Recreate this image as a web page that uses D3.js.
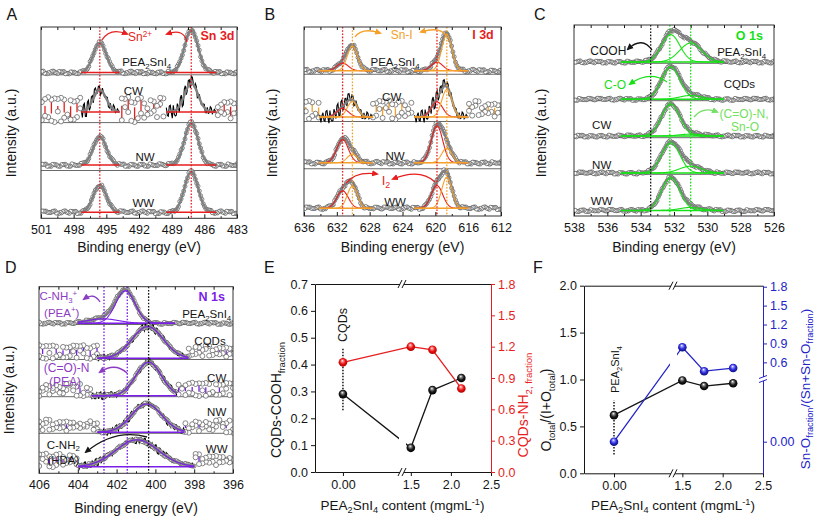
<!DOCTYPE html>
<html><head><meta charset="utf-8">
<script src="https://cdn.jsdelivr.net/npm/d3@7/dist/d3.min.js"></script>
<style>
html,body{margin:0;padding:0;background:#fff;}
svg{display:block;font-family:"Liberation Sans",Arial,Helvetica,sans-serif;}
</style></head><body>
<svg id="fig" width="817" height="521"></svg>
<script>
// ================= DATA =================
// Panel A : Sn 3d
const snRows = ["PEA_2SnI_4","CW","NW","WW"];
const snCenters = [495.6, 487.2];
const snSigmas = [0.6, 0.62];
const snHeights = [[0.62,0.89],[0.46,0.60],[0.59,0.88],[0.57,0.85]];
const snFit = [[497.3,493.8],[489.5,484.9]];
const snTicks = [501,498,495,492,489,486,483];
const snLines = [495.6, 487.2];
// Panel B : I 3d  (I2, Sn-I, I2, Sn-I)
const iRows = ["PEA_2SnI_4","CW","NW","WW"];
const iCenters = [631.3, 630.1, 619.8, 618.6];
const iSigmas = [0.7, 0.62, 0.7, 0.62];
const iHeights = [[0.16,0.52,0.18,0.76],[0.18,0.33,0.32,0.58],[0.49,0.18,0.78,0.31],[0.37,0.47,0.48,0.66]];
const iFit = [[634.2,627.6],[622.6,616.0]];
const iTicks = [636,632,628,624,620,616,612];
const iLinesI2 = [631.3, 619.8];
const iLinesSnI = [630.1, 618.6];
// Panel C : O 1s  (C-O, (C=O)-N / Sn-O)
const oRows = ["PEA_2SnI_4","CQDs","CW","NW","WW"];
const oCenters = [532.2, 531.0];
const oSigmas = [0.55, 0.66];
const oHeights = [[0.72,0.50],[0.85,0.10],[0.84,0.05],[0.79,0.18],[0.86,0.08]];
const oFit = [[535.2,529.0]];
const oTicks = [538,536,534,532,530,528,526];
const oLineCOOH = 533.4;
const oLinesGreen = [532.25, 531.0];
// Panel D : N 1s
const nRows = ["PEA_2SnI_4","CQDs","CW","NW","WW"];
const nCenters = [[401.55,402.7],[400.4],[400.35],[400.45],[400.95]];
const nSigmas = [[0.5,0.8],[0.8],[0.65],[0.78],[1.1]];
const nHeights = [[0.87,0.12],[0.85],[0.9],[0.76],[0.72]];
const nFit = [[404.0,399.0],[403.0,398.3],[403.3,398.9],[403.0,398.5],[404.0,398.0]];
const nTicks = [406,404,402,400,398,396];
const nLinesPurple = [402.65, 401.45];
const nLineBlack = 400.35;
// Panels E, F
const contentX = [0.0, 1.5, 1.77, 2.13];
const coohFrac = [0.29, 0.09, 0.305, 0.35];
const nh2Frac = [1.05, 1.20, 1.17, 0.80];
const oTotalFrac = [0.62, 0.99, 0.93, 0.96];
const snOFrac = [0.0, 0.84, 0.46, 0.51];
const contentTicks = [0, 1.5, 2.0, 2.5];
const coohTicks = [0,0.1,0.2,0.3,0.4,0.5,0.6,0.7];
const nh2Ticks = [0,0.3,0.6,0.9,1.2,1.5,1.8];
const oTotTicks = [0,0.5,1.0,1.5,2.0];
const snOTicks = [0,0.6,0.9,1.2,1.5,1.8];
// hand-read wiggle of the noisy spectra (normalised, -1..1)
const wiggle = [0.3,-0.8,0.9,-0.2,0.6,-1.0,0.1,0.7,-0.5,0.95,-0.35,0.2,-0.9,0.5,-0.1,0.8,-0.6,0.4,-0.75,1.0,
  -0.3,0.15,-0.95,0.65,-0.45,0.05,0.85,-0.7,0.35,-0.15,0.75,-0.55,0.25,-0.85,0.55,-0.05,0.9,-0.4,0.45,-1.0,
  0.1,0.6,-0.25,0.8,-0.65,0.3,-0.9,0.7,-0.2,0.5,-0.6,0.95,-0.1,0.4,-0.8,0.2,0.65,-0.5,0.85,-0.3];

// ================= STYLE =================
const RED='#e61e1e', ORANGE='#f5a02a', GREEN='#16e016', LGREEN='#72e060', PURPLE='#7a1ee8', PTEXT='#8c3cc2', BLUE='#2323c8', GREY='#808080', INK='#151515';

const svg = d3.select('#fig');
const defs = svg.append('defs');

function rich(t, str, fs){
  const parts=[]; let cur=''; let i=0;
  while(i<str.length){
    const ch=str[i];
    if(ch==='_'||ch==='^'){
      if(cur){parts.push([cur,0]);cur='';}
      let s;
      if(str[i+1]==='{'){const j=str.indexOf('}',i); s=str.slice(i+2,j); i=j+1;}
      else {s=str[i+1]; i+=2;}
      parts.push([s, ch==='_'?1:-1]);
    } else {cur+=ch;i++;}
  }
  if(cur)parts.push([cur,0]);
  let shift=0;
  parts.forEach(([s,m])=>{
    const target = m===1? fs*0.25 : (m===-1? -fs*0.36 : 0);
    t.append('tspan').attr('dy', target-shift).attr('font-size', m? fs*0.68 : fs).text(s);
    shift=target;
  });
}
function label(x,y,str,o={}){
  const fs=o.fs||12;
  const t=svg.append('text').attr('x',x).attr('y',y).attr('text-anchor',o.anchor||'middle')
    .attr('font-size',fs).attr('fill',o.color||INK).attr('font-weight',o.bold?'bold':null);
  rich(t,str,fs); return t;
}
function vtext(cx,cy,str,o={}){
  const fs=o.fs||14;
  const t=svg.append('text').attr('transform',`translate(${cx},${cy}) rotate(-90)`).attr('text-anchor',o.anchor||'middle')
    .attr('font-size',fs).attr('fill',o.color||INK);
  rich(t,str,fs); return t;
}
function addMarker(id,color){
  defs.append('marker').attr('id',id).attr('viewBox','0 0 10 10').attr('refX',7).attr('refY',5)
    .attr('markerUnits','userSpaceOnUse').attr('markerWidth',7).attr('markerHeight',7).attr('orient','auto')
    .append('path').attr('d','M0,0.5 L10,5 L0,9.5 Z').attr('fill',color);
}
addMarker('mRed',RED); addMarker('mOrange',ORANGE); addMarker('mBlack',INK); addMarker('mGreen',GREEN);
addMarker('mLGreen',LGREEN); addMarker('mPurple',PTEXT);
function arrow(d,color,mk){ svg.append('path').attr('d',d).attr('fill','none').attr('stroke',color).attr('stroke-width',1.3).attr('marker-end',`url(#${mk})`); }
function ballGrad(id,c1,c2,c3){
  const rg=defs.append('radialGradient').attr('id',id).attr('cx','50%').attr('cy','45%').attr('r','55%').attr('fx','42%').attr('fy','30%');
  rg.append('stop').attr('offset','0%').attr('stop-color','#ffffff');
  rg.append('stop').attr('offset','25%').attr('stop-color',c1);
  rg.append('stop').attr('offset','60%').attr('stop-color',c2);
  rg.append('stop').attr('offset','100%').attr('stop-color',c3);
}
ballGrad('ballK','#8a8a8a','#1a1a1a','#000');
ballGrad('ballR','#ff8080','#e81010','#b00000');
ballGrad('ballB','#8a8aff','#2a2ad8','#10107a');

function styleAxis(g,color,fs){
  g.attr('font-family',null).attr('font-size',fs||12.5);
  g.selectAll('path,line').attr('stroke',color);
  g.selectAll('text').attr('fill',color);
}

// ================= SPECTRA PANELS =================
function spectra(p){
  const x=d3.scaleLinear().domain(p.domain).range([p.x0,p.x1]);
  const lo=d3.min(p.domain), hi=d3.max(p.domain);
  const ppe=(p.x1-p.x0)/(hi-lo);
  const cid='clip'+p.id;
  defs.append('clipPath').attr('id',cid).append('rect').attr('x',p.x0).attr('y',p.y0).attr('width',p.x1-p.x0).attr('height',p.y1-p.y0);
  const g=svg.append('g').attr('clip-path',`url(#${cid})`);
  p.seps.forEach(s=>g.append('line').attr('x1',p.x0).attr('x2',p.x1).attr('y1',s).attr('y2',s).attr('stroke','#444').attr('stroke-width',0.8));
  p.rows.forEach((lab,i)=>{
    const base=p.bases[i];
    const y=d3.scaleLinear().domain([0,1]).range([base,base-p.unit]);
    const comps=p.comps[i];
    const gauss=(e,c)=>c[1]*Math.exp(-((e-c[0])**2)/(2*c[2]*c[2]));
    const env=e=>d3.sum(comps,c=>gauss(e,c));
    const fits=p.fits[i].map(r=>[Math.min(r[0],r[1]),Math.max(r[0],r[1])]);
    const inFit=e=>fits.some(r=>e>=r[0]&&e<=r[1]);
    const off=i*13;
    const W=k=>wiggle[(k+off)%wiggle.length];
    const noisy=p.noisy[i];
    const rg=g.append('g');
    const ln=f=>d3.line().x(e=>x(e)).y(e=>y(f(e)));
    if(noisy){
      const sc=d3.range(lo,hi+1e-9,p.scatStep/ppe).filter(e=>!inFit(e));
      sc.forEach((e,k)=>{
        if(k%2) return;
        rg.append('line').attr('x1',x(e)).attr('x2',x(e))
          .attr('y1',y(p.scatOff+p.scatAmp*W(k*7))).attr('y2',y(p.scatOff+0.35*p.scatAmp*W(k*7+29)))
          .attr('stroke',p.barColor).attr('stroke-width',1.3);
      });
      sc.forEach((e,k)=>{
        [W(k*7),W(k*7+29)].forEach(v=>rg.append('circle').attr('cx',x(e)).attr('cy',y(p.scatOff+p.scatAmp*v))
          .attr('r',p.r+0.5).attr('fill','#fff').attr('stroke','#555').attr('stroke-width',0.7));
      });
      fits.forEach(r=>{
        const ee=d3.range(r[0],r[1]+1e-9,1/ppe);
        rg.append('path').attr('d',d3.line().x(e=>x(e)).y((e,k)=>y(env(e)+p.noiseAmp*W(k*7+1)))(ee))
          .attr('fill','none').attr('stroke','#000').attr('stroke-width',1.1);
      });
    }
    const cs=d3.range(lo,hi+1e-9,p.circStep/ppe).filter(e=>!noisy || (p.fitCircles && inFit(e)));
    cs.forEach((e,k)=>rg.append('circle').attr('cx',x(e)).attr('cy',y(env(e)+p.jit*W(k*11)))
      .attr('r',p.r).attr('fill','#fff').attr('stroke','#505050').attr('stroke-width',0.7));
    fits.forEach(r=>{
      const ee=d3.range(r[0],r[1]+1e-9,0.5/ppe);
      rg.append('path').attr('d',ln(env)(ee)).attr('fill','none').attr('stroke',GREY).attr('stroke-width',2.4);
      if(p.showComps) comps.forEach(c=>{
        if(c[0]>=r[0]&&c[0]<=r[1]) rg.append('path').attr('d',ln(e=>gauss(e,c))(ee)).attr('fill','none').attr('stroke',c[3]).attr('stroke-width',1.1);
      });
      rg.append('line').attr('x1',x(r[0])).attr('x2',x(r[1])).attr('y1',y(0)).attr('y2',y(0)).attr('stroke',p.baseColor).attr('stroke-width',1.4);
    });
  });
  // vertical dotted guide lines
  p.guides.forEach(([e,col])=>svg.append('line').attr('x1',x(e)).attr('x2',x(e)).attr('y1',p.y0).attr('y2',p.y1)
    .attr('stroke',col).attr('stroke-width',1.3).attr('stroke-dasharray','1.6,1.6'));
  // axes
  const mid=p.ticks.slice(1).map((t,k)=>(t+p.ticks[k])/2);
  const bot=svg.append('g').attr('transform',`translate(0,${p.y1})`)
    .call(d3.axisBottom(x).tickValues(p.ticks).tickSizeInner(-4).tickSizeOuter(0).tickPadding(7).tickFormat(d3.format('d')));
  styleAxis(bot,INK); bot.select('.domain').remove();
  const botm=svg.append('g').attr('transform',`translate(0,${p.y1})`).call(d3.axisBottom(x).tickValues(mid).tickSizeInner(-2).tickSizeOuter(0).tickFormat(''));
  styleAxis(botm,INK); botm.select('.domain').remove();
  const top=svg.append('g').attr('transform',`translate(0,${p.y0})`).call(d3.axisTop(x).tickValues(p.ticks.concat(mid)).tickSizeInner(-3).tickSizeOuter(0).tickFormat(''));
  styleAxis(top,INK); top.select('.domain').remove();
  svg.append('rect').attr('x',p.x0).attr('y',p.y0).attr('width',p.x1-p.x0).attr('height',p.y1-p.y0)
    .attr('fill','none').attr('stroke','#333').attr('stroke-width',1);
  return x;
}

// ---- Panel A
spectra({id:'A',domain:[501,483],x0:41,x1:237,y0:27,y1:218.3,ticks:snTicks,
  seps:[74.8,122.6,170.5],bases:[72.5,112,165,212.3],unit:47.9,rows:snRows,
  comps:snHeights.map(h=>snCenters.map((c,j)=>[c,h[j],snSigmas[j],RED])),
  fits:snRows.map(()=>snFit),noisy:[false,true,false,false],showComps:false,
  baseColor:RED,barColor:RED,noiseAmp:0.15,scatAmp:0.26,scatOff:0.05,scatStep:3.2,circStep:1.3,r:2,jit:0.03,fitCircles:false,
  guides:snLines.map(e=>[e,RED])});
// ---- Panel B
const iColors=[RED,ORANGE,RED,ORANGE];
spectra({id:'B',domain:[636,612],x0:304,x1:501,y0:27,y1:216,ticks:iTicks,
  seps:[74.25,121.5,168.75],bases:[70.7,117,162.7,208.3],unit:47.25,rows:iRows,
  comps:iHeights.map(h=>iCenters.map((c,j)=>[c,h[j],iSigmas[j],iColors[j]])),
  fits:iRows.map(()=>iFit),noisy:[false,true,false,false],showComps:true,
  baseColor:ORANGE,barColor:ORANGE,noiseAmp:0.15,scatAmp:0.2,scatOff:0.15,scatStep:3.2,circStep:1.3,r:2,jit:0.03,fitCircles:false,
  guides:iLinesI2.map(e=>[e,RED]).concat(iLinesSnI.map(e=>[e,ORANGE]))});
// ---- Panel C
spectra({id:'C',domain:[538,526],x0:574,x1:774,y0:25,y1:216,ticks:oTicks,
  seps:[63.3,100.7,137.7,174.3],bases:[62,99.3,136,173,210.5],unit:38,rows:oRows,
  comps:oHeights.map(h=>oCenters.map((c,j)=>[c,h[j],oSigmas[j],GREEN])),
  fits:oRows.map(()=>oFit),noisy:[false,false,false,false,false],showComps:true,
  baseColor:GREEN,barColor:GREEN,noiseAmp:0,scatAmp:0,scatOff:0,scatStep:3,circStep:1.3,r:2,jit:0.03,fitCircles:false,
  guides:[[oLineCOOH,INK]].concat(oLinesGreen.map(e=>[e,GREEN]))});
// ---- Panel D
spectra({id:'D',domain:[406,396],x0:39,x1:233,y0:286.7,y1:473.3,ticks:nTicks,
  seps:[324.5,359.5,396.7,433.3],bases:[323.3,358.3,395.7,432.3,466.7],unit:37.3,rows:nRows,
  comps:nHeights.map((h,i)=>nCenters[i].map((c,j)=>[c,h[j],nSigmas[i][j],PURPLE])),
  fits:nFit.map(r=>[r]),noisy:[false,true,true,true,true],showComps:true,
  baseColor:PURPLE,barColor:PURPLE,noiseAmp:0.1,scatAmp:0.18,scatOff:0.17,scatStep:3.4,circStep:1.3,r:2,jit:0.03,fitCircles:true,
  guides:nLinesPurple.map(e=>[e,PURPLE]).concat([[nLineBlack,INK]])});

// ---- spectra annotations
label(6.5,20,'A',{fs:16,anchor:'start'}); label(264.5,20,'B',{fs:16,anchor:'start'}); label(534,20,'C',{fs:16,anchor:'start'});
label(5,273,'D',{fs:16,anchor:'start'});
[[11,133],[272,133],[541,133],[9,390]].forEach(([cx,cy])=>vtext(cx+5,cy,'Intensity (a.u.)',{fs:14}));
[[139,252],[402.5,252],[674,252],[136,513]].forEach(([cx,cy])=>label(cx,cy,'Binding energy (eV)',{fs:14}));
// A
label(140,41,'Sn^{2+}',{fs:12,color:RED}); label(217.5,40,'Sn 3d',{fs:12.5,color:RED,bold:true});
arrow('M102,40 Q110,27 127,34',RED,'mRed'); arrow('M187,42 Q184,28 167,34',RED,'mRed');
label(146.7,66,'PEA_2SnI_4',{fs:11.5}); label(133.3,94.5,'CW',{fs:11.5}); label(145,161,'NW',{fs:11.5}); label(143.3,207,'WW',{fs:11.5});
// B
label(401.7,39,'Sn-I',{fs:12,color:ORANGE}); label(483,39,'I 3d',{fs:12.5,color:RED,bold:true});
arrow('M355,37 Q362,27 380,33',ORANGE,'mOrange'); arrow('M446,36 Q441,26 421,32',ORANGE,'mOrange');
label(386,184.5,'I_2',{fs:13,color:RED});
arrow('M346,183 Q356,171 377,174',RED,'mRed'); arrow('M435,182 Q420,168 393,179',RED,'mRed');
label(395,66,'PEA_2SnI_4',{fs:11.5}); label(391.7,101,'CW',{fs:11.5}); label(395,159.5,'NW',{fs:11.5}); label(395,206,'WW',{fs:11.5});
// C
label(749.3,39.5,'O 1s',{fs:12.5,color:GREEN,bold:true});
label(608.3,55,'COOH',{fs:12}); arrow('M652,50 Q642,36 628,49',INK,'mBlack');
label(741.7,56,'PEA_2SnI_4',{fs:11.5});
label(739.3,88,'CQDs',{fs:11.5});
label(615,88.5,'C-O',{fs:12,color:GREEN}); arrow('M667,82 Q650,70 630,84',GREEN,'mGreen');
label(601.7,128.5,'CW',{fs:11.5});
label(744,118,'(C=O)-N,',{fs:12,color:LGREEN}); label(745,131,'Sn-O',{fs:12,color:LGREEN});
arrow('M694,117 Q703,106 717,112',LGREEN,'mLGreen');
label(601.7,168.5,'NW',{fs:11.5}); label(601.7,205,'WW',{fs:11.5});
// D
label(211.7,301,'N 1s',{fs:12.5,color:PURPLE,bold:true});
label(58.3,300,'C-NH_3^+',{fs:11.5,color:PTEXT}); label(61.7,316.5,'(PEA^+)',{fs:11.5,color:PTEXT});
arrow('M100,302 Q94,292 84,299',PTEXT,'mPurple');
label(206.7,318,'PEA_2SnI_4',{fs:11.5}); label(210,344.5,'CQDs',{fs:11.5});
label(66.7,372,'(C=O)-N',{fs:12,color:PTEXT}); label(65,386,'(PEA)',{fs:12,color:PTEXT});
arrow('M127,373 Q115,362 100,372',PTEXT,'mPurple');
label(216.7,382,'CW',{fs:11.5}); label(216.7,416,'NW',{fs:11.5});
label(63.3,448.5,'C-NH_2',{fs:11.5}); label(63.3,464,'(HDA)',{fs:11.5});
arrow('M147,437 Q115,428 86,452',INK,'mBlack');
label(216.7,453,'WW',{fs:11.5});

// ================= PANELS E, F =================
function breakH(x,y){
  svg.append('rect').attr('x',x-2).attr('y',y-1.5).attr('width',4).attr('height',3).attr('fill','#fff');
  [-2,2].forEach(d=>svg.append('line').attr('x1',x+d-2).attr('y1',y+4).attr('x2',x+d+2).attr('y2',y-4).attr('stroke',INK).attr('stroke-width',1));
}
function breakV(x,y,color){
  svg.append('rect').attr('x',x-1.5).attr('y',y-2).attr('width',3).attr('height',4).attr('fill','#fff');
  [-2,2].forEach(d=>svg.append('line').attr('x1',x-4).attr('y1',y+d+1.5).attr('x2',x+4).attr('y2',y+d-1.5).attr('stroke',color).attr('stroke-width',1));
}
function gapClip(id,bx){
  const c=defs.append('clipPath').attr('id',id);
  c.append('rect').attr('x',0).attr('y',0).attr('width',bx-3).attr('height',521);
  c.append('rect').attr('x',bx+4).attr('y',0).attr('width',817-bx).attr('height',521);
}
const fmtX=d=>d===0?'0.00':d.toFixed(1);
const fmtR=d=>d===0?'0.00':d.toFixed(1);

// ---- Panel E
(function(){
  const x0=315,x1=491,y0=284,y1=472,bx=402;
  const x=d3.scaleLinear().domain([-0.35,0.74,1.39,2.5]).range([x0,bx,bx,x1]);
  const yL=d3.scaleLinear().domain([0,0.7]).range([y1,y0]);
  const yR=d3.scaleLinear().domain([0,1.8]).range([y1,y0]);
  styleAxis(svg.append('g').attr('transform',`translate(0,${y1})`).call(d3.axisBottom(x).tickValues(contentTicks).tickFormat(fmtX).tickSizeInner(4).tickSizeOuter(0).tickPadding(4)),INK);
  styleAxis(svg.append('g').attr('transform',`translate(0,${y0})`).call(d3.axisTop(x).tickValues([]).tickSizeOuter(0)),INK);
  styleAxis(svg.append('g').attr('transform',`translate(${x0},0)`).call(d3.axisLeft(yL).tickValues(coohTicks).tickFormat(d3.format('.1f')).tickSizeInner(4).tickSizeOuter(0).tickPadding(3)),INK);
  styleAxis(svg.append('g').attr('transform',`translate(${x1},0)`).call(d3.axisRight(yR).tickValues(nh2Ticks).tickFormat(d3.format('.1f')).tickSizeInner(4).tickSizeOuter(0).tickPadding(3)),RED);
  breakH(bx,y0); breakH(bx,y1);
  gapClip('gapE',bx);
  svg.append('line').attr('x1',x(0)).attr('x2',x(0)).attr('y1',yL(0.23)).attr('y2',yL(0.46)).attr('stroke',INK).attr('stroke-width',1.5).attr('stroke-dasharray','1.5,1.5');
  const lk=d3.line().x((d,i)=>x(contentX[i])).y(d=>yL(d));
  const lr=d3.line().x((d,i)=>x(contentX[i])).y(d=>yR(d));
  svg.append('path').attr('d',lk(coohFrac)).attr('fill','none').attr('stroke',INK).attr('stroke-width',1.3).attr('clip-path','url(#gapE)');
  svg.append('path').attr('d',lr(nh2Frac)).attr('fill','none').attr('stroke',RED).attr('stroke-width',1.3);
  contentX.forEach((v,i)=>svg.append('circle').attr('cx',x(v)).attr('cy',yL(coohFrac[i])).attr('r',4.3).attr('fill','url(#ballK)'));
  contentX.forEach((v,i)=>svg.append('circle').attr('cx',x(v)).attr('cy',yR(nh2Frac[i])).attr('r',4.3).attr('fill','url(#ballR)'));
  vtext(x(0)+4.5,342,'CQDs',{fs:12.5,anchor:'start'});
  vtext(281,400,'CQDs-COOH_{fraction}',{fs:14});
  vtext(528,405,'CQDs-NH_{2, fraction}',{fs:14,color:RED});
  label(402.5,510,'PEA_2SnI_4 content (mgmL^{-1})',{fs:13.5});
})();

// ---- Panel F
(function(){
  const x0=584,x1=763,y0=285.7,y1=473.3,bx=673;
  const x=d3.scaleLinear().domain([-0.373,0.734,1.384,2.5]).range([x0,bx,bx,x1]);
  const yL=d3.scaleLinear().domain([0,2]).range([y1,y0]);
  const yR=d3.scaleLinear().domain([-0.25,0,0.32,1.816]).range([y1,441.7,380,y0]);
  styleAxis(svg.append('g').attr('transform',`translate(0,${y1})`).call(d3.axisBottom(x).tickValues(contentTicks).tickFormat(fmtX).tickSizeInner(4).tickSizeOuter(0).tickPadding(4)),INK);
  styleAxis(svg.append('g').attr('transform',`translate(0,${y0})`).call(d3.axisTop(x).tickValues([]).tickSizeOuter(0)),INK);
  styleAxis(svg.append('g').attr('transform',`translate(${x0},0)`).call(d3.axisLeft(yL).tickValues(oTotTicks).tickFormat(d3.format('.1f')).tickSizeInner(4).tickSizeOuter(0).tickPadding(3)),INK);
  styleAxis(svg.append('g').attr('transform',`translate(${x1},0)`).call(d3.axisRight(yR).tickValues(snOTicks).tickFormat(fmtR).tickSizeInner(4).tickSizeOuter(0).tickPadding(3)),BLUE);
  breakH(bx,y0); breakH(bx,y1); breakV(x1,379,BLUE);
  gapClip('gapF',bx);
  svg.append('line').attr('x1',x(0)).attr('x2',x(0)).attr('y1',yL(0.2)).attr('y2',yL(0.78)).attr('stroke',INK).attr('stroke-width',1.5).attr('stroke-dasharray','1.5,1.5');
  const lk=d3.line().x((d,i)=>x(contentX[i])).y(d=>yL(d));
  const lb=d3.line().x((d,i)=>x(contentX[i])).y(d=>yR(d));
  svg.append('path').attr('d',lk(oTotalFrac)).attr('fill','none').attr('stroke',INK).attr('stroke-width',1.3);
  svg.append('path').attr('d',lb(snOFrac)).attr('fill','none').attr('stroke',BLUE).attr('stroke-width',1.3).attr('clip-path','url(#gapF)');
  contentX.forEach((v,i)=>svg.append('circle').attr('cx',x(v)).attr('cy',yL(oTotalFrac[i])).attr('r',4.3).attr('fill','url(#ballK)'));
  contentX.forEach((v,i)=>svg.append('circle').attr('cx',x(v)).attr('cy',yR(snOFrac[i])).attr('r',4.3).attr('fill','url(#ballB)'));
  vtext(x(0)+5,393,'PEA_2SnI_4',{fs:11,anchor:'start'});
  vtext(551,410,'O_{total}/(I+O_{total})',{fs:14});
  vtext(809.5,389,'Sn-O_{fraction}/(Sn+Sn-O_{fraction})',{fs:13.5,color:BLUE});
  label(673,510,'PEA_2SnI_4 content (mgmL^{-1})',{fs:13.5});
})();
label(264,273,'E',{fs:16,anchor:'start'}); label(533,273,'F',{fs:16,anchor:'start'});
</script>
</body></html>
